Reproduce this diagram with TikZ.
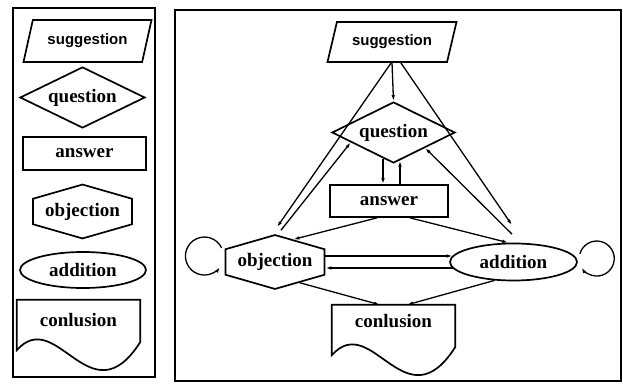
\documentclass[tikz,border=0pt]{standalone}
\usepackage{fontspec}
\setmainfont{Liberation Serif}
\newfontfamily\sugfont{Liberation Sans}
\usetikzlibrary{shapes.geometric,shapes.symbols,arrows.meta}

\newcommand{\nodefont}{\fontsize{19}{21}\selectfont\bfseries}
\newcommand{\sugnodefont}{\sugfont\fontsize{15}{17}\selectfont\bfseries}
% outline of a document box: #1 node, #2 drop on the right, #3 drop on the left
\newcommand{\docshape}[3]{\draw[line width=1.7pt] ([yshift=-#3]#1.south west) -- (#1.north west)
  -- (#1.north east) -- ([yshift=-#2]#1.south east)
  .. controls +(-50,-78) and +(40,45) .. ([yshift=-#3]#1.south west) -- cycle}

\begin{document}
\begin{tikzpicture}[
x=1pt, y=1pt,
Shape/.style={draw, line width=1.7pt, inner sep=0pt, font=\nodefont},
Sugg/.style={Shape, trapezium, trapezium left angle=64, trapezium right angle=116,
  trapezium stretches=true, minimum width=130, minimum height=40, font=\sugnodefont},
Quest/.style={Shape, diamond, aspect=2, minimum width=123, minimum height=61},
Ans/.style={Shape, rectangle, minimum width=118, minimum height=32},
Obj/.style={Shape, signal, signal to=north and south, signal pointer angle=148,
  minimum width=99, minimum height=47},
Add/.style={Shape, ellipse, minimum width=127, minimum height=37},
Conl/.style={inner sep=0pt, font=\nodefont, minimum width=123, minimum height=33},
Arr/.style={-{Latex[length=6pt,width=3.5pt]}, line width=1.3pt},
Panel/.style={line width=1.7pt}
]
\useasboundingbox (0,0) rectangle (623,385);

% legend column
\draw[Panel] (13,8) rectangle (155,377);
\node[Sugg, minimum width=129, minimum height=42] (sugL) at (87.5,344) {suggestion};
\node[Quest, minimum width=125] (queL) at (82.5,287.5) {question};
\node[Ans, minimum width=123, minimum height=33] (ansL) at (84.5,231.5) {answer};
\node[Obj] (objL) at (82.5,173.5) {objection};
\node[Add, minimum width=126, minimum height=36] (addL) at (83,115) {addition};
\node[Conl, minimum height=41] (conL) at (78.5,64.5) {conlusion};
\docshape{conL}{1}{9};

% the graph
\draw[Panel] (175,4) rectangle (621,375);
\node[Sugg] (sug) at (392,343) {suggestion};
\node[Quest] (que) at (393.5,252.5) {question};
\node[Ans] (ans) at (389,184) {answer};
\node[Obj] (obj) at (275,123) {objection};
\node[Add] (add) at (513.5,123) {addition};
\node[Conl] (con) at (393.5,63.5) {conlusion};
\docshape{con}{9}{17};

\draw[Arr] (sug.south) -- (que.north);
\draw[Arr] ([xshift=20]sug.south west) -- ([shift={(2,7)}]obj.north);
\draw[Arr] ([shift={(6,4)}]obj.north) -- (que.193);
\draw[Arr] ([xshift=-12]sug.south east) -- ([shift={(-1.5,17.5)}]add.north);
\draw[Arr] ([shift={(-1.5,8.5)}]add.north) -- (que.334);

\draw[Arr] ([shift={(-10.5,5.2)}]que.south) -- ([xshift=-6]ans.north);
\draw[Arr] ([xshift=11]ans.north) -- ([shift={(6.5,3.2)}]que.south);
\draw[Arr] ([xshift=-12]ans.south) -- (obj.51);
\draw[Arr] ([xshift=21]ans.south) -- (add.105);

\draw[Arr] ([yshift=6]obj.east) -- ([shift={(3.5,6)}]add.west);
\draw[Arr] ([shift={(3.5,-6)}]add.west) -- ([yshift=-6]obj.east);
\draw[Arr] (obj.320) -- ([xshift=-13.5]con.north);
\draw[Arr] (add.224) -- ([xshift=13.5]con.north);

% self loops
\draw[Arr] ([shift={(-3,14)}]obj.west) arc[start angle=25, end angle=325, radius=19];
\draw[Arr] ([shift={(2,8)}]add.east) arc[start angle=165, end angle=-150, radius=17.5];

\end{tikzpicture}
\end{document}
